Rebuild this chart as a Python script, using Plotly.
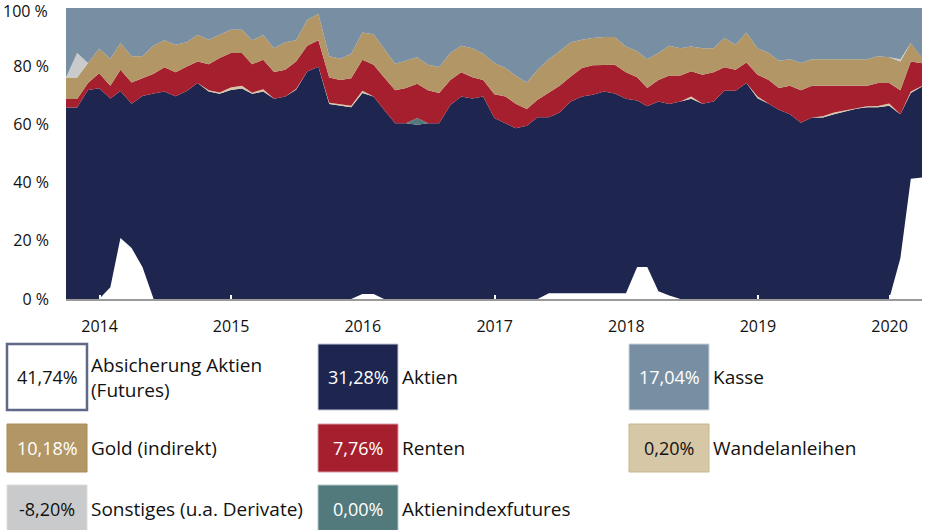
import pandas as pd
import plotly.graph_objects as go

# Monthly observation dates (month ends), Sep 2013 .. Mar 2020
dates = pd.date_range("2013-09-30", periods=79, freq="ME")

absicherung = [0, 0, 0, 0, 4, 21, 17.5, 11] + [0] * 19 + [1.7, 1.7] + [0] * 15 + [2] * 8 + \
              [11, 11, 2.7, 1.2] + [0] * 20 + [14, 41.3, 41.74]

aktien = [65.8, 65.8, 71.8, 72.4, 64.9, 50.5, 49.6, 58.8, 70.6, 71.3, 69.7, 71.5, 74.2, 71.3, 70.5, 71.8,
          72.3, 70.5, 71.3, 68.8, 69.6, 71.9, 78.2, 79.8, 67.0, 66.4, 65.9, 69.1, 67.9, 65.0, 60.4, 60.4,
          59.9, 60.4, 60.4, 66.7, 69.6, 68.9, 69.6, 62.2, 60.4, 58.7, 59.5, 62.5, 60.5, 62.1, 65.9, 67.6,
          68.2, 69.3, 68.6, 66.8, 57.2, 55.2, 65.2, 65.8, 67.9, 68.8, 67.1, 67.9, 71.6, 71.6, 74.2, 69.0,
          67.1, 65.0, 63.5, 60.6, 62.4, 62.4, 63.5, 64.4, 65.4, 65.9, 65.9, 66.4, 49.5, 29.5, 31.28]

wandelanleihen = [0, 0, 0, 0, 0, 0, 0, 0, 0, 0, 0, 0, 0, 0.4, 0.5, 0.9, 1.0, 0.4, 0.8, 0, 0, 0.3, 0, 0,
                  0.4, 0.5, 0.5, 0.8, 0, 0, 0, 0, 0, 0, 0, 0, 0, 0, 0, 0, 0, 0, 0, 0, 0, 0, 0, 0,
                  0, 0, 0, 0, 0, 0, 0, 0, 0, 0.8, 0, 0, 0, 0, 0, 0.6, 0, 0, 0, 0, 0, 0.4, 0.6, 0.4,
                  0.3, 0.3, 0.4, 0.8, 0, 0.5, 0.2]

indexfutures = [0] * 32 + [2.3] + [0] * 46

renten = [2.9, 2.9, 2.4, 5.2, 4.4, 7.3, 7.3, 6.1, 6.8, 8.3, 8.2, 8.4, 7.4, 9.0, 11.8, 11.8, 11.2, 9.8,
          10.1, 9.2, 9.2, 9.4, 8.8, 9.1, 8.7, 8.4, 9.5, 10.6, 10.9, 11.2, 11.3, 12.1, 11.8, 11.3, 10.4,
          8.6, 8.3, 7.3, 5.7, 8.2, 9.2, 8.4, 5.8, 6.0, 8.3, 9.2, 8.6, 9.8, 10.1, 9.2, 9.9, 9.1, 8.0,
          6.3, 7.4, 9.8, 8.9, 8.7, 10.0, 10.0, 8.0, 7.2, 7.1, 7.5, 8.2, 7.5, 9.8, 11.1, 10.9, 10.5,
          9.2, 8.5, 7.6, 7.1, 7.9, 7.0, 8.2, 10.3, 7.76]

gold = [7.4, 7.4, 6.9, 8.4, 9.3, 9.2, 9.0, 7.5, 9.7, 9.3, 9.5, 8.3, 9.2, 8.4, 8.0, 8.0, 8.0, 8.2, 8.5,
        8.2, 9.4, 7.3, 9.0, 9.0, 7.3, 7.3, 8.4, 9.4, 10.5, 10.0, 9.1, 9.4, 9.1, 8.8, 8.9, 9.2, 9.1,
        10.0, 9.0, 10.7, 9.8, 9.6, 9.1, 10.3, 11.6, 11.8, 11.7, 9.7, 9.4, 9.5, 9.5, 8.9, 8.9, 9.9,
        9.2, 10.2, 9.4, 8.5, 9.1, 8.3, 10.1, 8.6, 10.3, 9.1, 9.2, 9.4, 9.1, 9.4, 9.1, 9.1, 9.1, 9.1,
        9.1, 9.1, 9.2, 8.9, 9.9, 6.4, 10.18]

sonstiges = [0, 8.4] + [0] * 74 + [0.8, 0, -8.2]

kasse = [23.9, 15.5, 18.9, 14.0, 17.4, 12.0, 16.6, 16.6, 12.9, 11.1, 12.6, 11.8, 9.2, 10.9, 9.2, 7.5,
         7.5, 11.1, 9.3, 13.8, 11.8, 11.1, 4.0, 2.1, 16.6, 17.4, 15.7, 8.4, 9.0, 13.8, 19.2, 18.1,
         16.9, 19.5, 20.3, 15.5, 13.0, 13.8, 15.7, 18.9, 20.6, 23.3, 25.6, 21.2, 17.6, 14.9, 11.8,
         10.9, 10.3, 10.0, 10.0, 13.2, 14.9, 17.6, 15.5, 13.0, 13.8, 13.2, 13.8, 13.8, 10.3, 12.6,
         8.4, 13.8, 15.5, 18.1, 17.6, 18.9, 17.6, 17.6, 17.6, 17.6, 17.6, 17.6, 16.6, 16.9, 17.6,
         12.0, 17.04]

year_ticks = ["2014-01-01", "2015-01-01", "2016-01-01", "2017-01-01", "2018-01-01", "2019-01-01", "2020-01-01"]
year_labels = ["2014", "2015", "2016", "2017", "2018", "2019", "2020"]
y_ticks = [0, 20, 40, 60, 80]
y_labels = ["0 %", "20 %", "40 %", "60 %", "80 %"]
y_top_label = "100 %"

# Legend content
legend_values = ["41,74%", "31,28%", "17,04%", "10,18%", "7,76%", "0,20%", "-8,20%", "0,00%"]
legend_names = ["Absicherung Aktien<br>(Futures)", "Aktien", "Kasse", "Gold (indirekt)", "Renten",
                "Wandelanleihen", "Sonstiges (u.a. Derivate)", "Aktienindexfutures"]

C_NAVY = "#1e2650"
C_KASSE = "#788fa3"
C_GOLD = "#b29665"
C_RED = "#a61f2e"
C_BEIGE = "#d6c7a7"
C_GRAY = "#c9cacc"
C_TEAL = "#527a7c"

series = [
    ("Absicherung Aktien (Futures)", absicherung, "#ffffff"),
    ("Aktien", aktien, C_NAVY),
    ("Wandelanleihen", wandelanleihen, C_BEIGE),
    ("Aktienindexfutures", indexfutures, C_TEAL),
    ("Renten", renten, C_RED),
    ("Gold (indirekt)", gold, C_GOLD),
    ("Sonstiges (u.a. Derivate)", sonstiges, C_GRAY),
    ("Kasse", kasse, C_KASSE),
]

fig = go.Figure()
for name, vals, col in series:
    fig.add_trace(go.Scatter(
        x=dates, y=vals, name=name, stackgroup="one", mode="lines",
        line=dict(width=0, color=col), fillcolor=col, hoverinfo="skip", showlegend=False))

W, H = 925, 530
L, R, T, B = 66, 3, 8, 231
PW, PH = W - L - R, H - T - B


def px(x):
    return (x - L) / PW


def py(y):
    return (H - B - y) / PH


FONT = "Open Sans"
shapes = []
annotations = []
box_cols = [7, 318, 629]
box_rows = [(344, 410), (424, 472), (485, 533)]
box_fill = ["#ffffff", C_NAVY, C_KASSE, C_GOLD, C_RED, C_BEIGE, C_GRAY, C_TEAL]
box_line = ["#5f6889", "#c5c8da", "#c9d2dc", "#a88a58", "#d99aa2", "#c9b68f", "#dcdcdc", "#b4c6c7"]
box_lw = [2.5, 1, 1, 1, 1, 1, 1, 1]
text_col = ["#111111", "#ffffff", "#ffffff", "#ffffff", "#ffffff", "#111111", "#111111", "#ffffff"]

for k in range(len(legend_values)):
    r, c = divmod(k, 3)
    x0 = box_cols[c]
    x1 = x0 + 80
    y0, y1 = box_rows[r]
    shapes.append(dict(type="rect", xref="paper", yref="paper",
                       x0=px(x0), x1=px(x1), y0=py(y1), y1=py(y0),
                       fillcolor=box_fill[k], line=dict(color=box_line[k], width=box_lw[k]),
                       layer="above"))
    yc = (y0 + y1) / 2
    annotations.append(dict(xref="paper", yref="paper", x=px((x0 + x1) / 2), y=py(yc),
                            text=legend_values[k], showarrow=False, xanchor="center", yanchor="middle",
                            font=dict(family=FONT, size=18, color=text_col[k])))
    annotations.append(dict(xref="paper", yref="paper", x=px(x1 + 2), y=py(yc),
                            text=legend_names[k], showarrow=False, xanchor="left", yanchor="middle",
                            align="left", font=dict(family=FONT, size=19, color="#111111")))

# top y label, nudged down so it stays inside the page (as in the reference)
annotations.append(dict(xref="paper", yref="paper", x=px(L - 16), y=py(11), text=y_top_label,
                        showarrow=False, xanchor="right", yanchor="middle",
                        font=dict(family=FONT, size=16, color="#111111")))

fig.update_layout(
    width=W, height=H,
    margin=dict(l=L, r=R, t=T, b=B, pad=0),
    paper_bgcolor="white", plot_bgcolor="white",
    shapes=shapes, annotations=annotations,
    showlegend=False,
    xaxis=dict(range=[dates[0], dates[-1]], tickvals=year_ticks, ticktext=year_labels,
               showgrid=False, zeroline=False, showline=True, linecolor="#9a9a9a", linewidth=1.5,
               ticks="inside", ticklen=4, tickcolor="#ffffff", tickwidth=1.5, automargin=False,
               ticklabeloverflow="allow",
               tickfont=dict(family=FONT, size=16, color="#111111"), ticklabelstandoff=12),
    yaxis=dict(range=[0, 100], tickvals=y_ticks, ticktext=y_labels, showgrid=False,
               zeroline=False, showline=False, ticks="", ticklabelstandoff=16, automargin=False,
               ticklabeloverflow="allow",
               tickfont=dict(family=FONT, size=16, color="#111111")),
)

fig.write_html("out.html", config={"displayModeBar": False},
               post_script="document.body.style.margin='0';document.body.style.overflow='hidden';")
